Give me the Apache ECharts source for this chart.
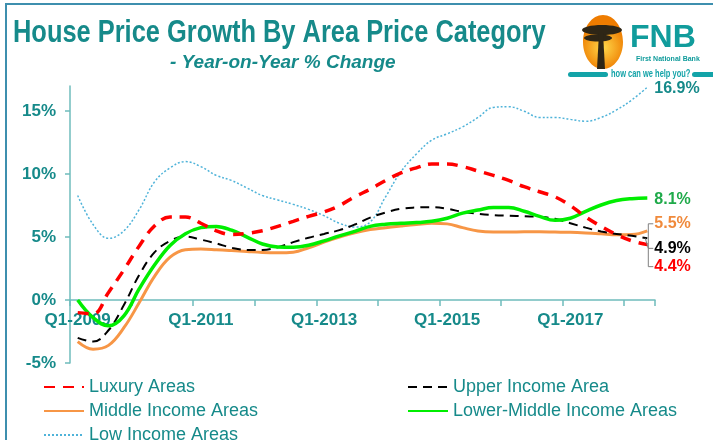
<!DOCTYPE html>
<html>
<head>
<meta charset="utf-8">
<title>House Price Growth By Area Price Category</title>
<script src="https://cdn.jsdelivr.net/npm/echarts@6/dist/echarts.min.js"></script>
<style>html,body{margin:0;padding:0;background:#fff;}</style>
</head>
<body>
<div id="main" style="width:713px;height:440px"></div>
<script>
// quarters Q1-2009 .. Q2-2018
var quarters = [];
for (var yr = 2009; yr <= 2018; yr++) {
  for (var q = 1; q <= 4; q++) quarters.push('Q' + q + '-' + yr);
}
quarters = quarters.slice(0, 38);

var seriesNames = ['Luxury Areas', 'Upper Income Area', 'Middle Income Areas', 'Lower-Middle Income Areas', 'Low Income Areas'];

var luxury = [-1.0, -1.1, 0.6, 2.4, 4.3, 5.9, 6.6, 6.6, 6.1, 5.5, 5.2, 5.3, 5.5, 5.85, 6.25, 6.65, 7.0, 7.5, 8.2, 8.8,
  9.5, 10.1, 10.5, 10.8, 10.8, 10.6, 10.25, 9.9, 9.5, 9.0, 8.6, 8.2, 7.5, 6.6, 5.85, 5.2, 4.7, 4.4];
var upperIncome = [-3.0, -3.3, -2.4, -0.4, 2.0, 3.8, 4.7, 5.05, 4.8, 4.5, 4.15, 3.98, 3.98, 4.2, 4.6, 4.95, 5.25, 5.55, 6.0, 6.55,
  6.95, 7.25, 7.35, 7.38, 7.25, 7.0, 6.85, 6.75, 6.7, 6.65, 6.6, 6.45, 6.1, 5.75, 5.45, 5.25, 5.1, 4.9];
var middleIncome = [-3.3, -3.9, -3.6, -2.2, -0.2, 1.9, 3.4, 4.0, 4.05, 4.0, 3.93, 3.85, 3.78, 3.76, 3.8, 4.15, 4.6, 5.0, 5.35, 5.6,
  5.75, 5.88, 6.0, 6.1, 6.05, 5.75, 5.48, 5.4, 5.4, 5.42, 5.42, 5.4, 5.38, 5.33, 5.26, 5.18, 5.2, 5.5];
var lowerMiddle = [0.0, -1.4, -2.05, -1.25, 0.9, 2.8, 4.34, 5.27, 5.75, 5.85, 5.55, 5.0, 4.45, 4.22, 4.2, 4.35, 4.7, 5.1, 5.45, 5.85,
  6.02, 6.1, 6.15, 6.25, 6.5, 6.9, 7.15, 7.35, 7.35, 7.05, 6.65, 6.33, 6.5, 7.05, 7.55, 7.9, 8.05, 8.1];
var lowIncome = [8.3, 6.0, 4.9, 5.5, 7.2, 9.4, 10.5, 11.0, 10.6, 9.9, 9.5, 8.9, 8.3, 7.95, 7.6, 7.2, 6.7, 6.1, 5.8, 6.2,
  8.2, 10.2, 11.6, 12.7, 13.2, 13.75, 14.5, 15.3, 15.35, 15.0, 14.5, 14.5, 14.35, 14.2, 14.5, 15.1, 15.9, 16.9];

var yMin = -5, yMax = 17;
var gridTop = 86, gridBottom = 77, chartH = 440;

var teal = '#168a8a';
var axisColor = '#6fbcbc';
var sans = "'Liberation Sans', Arial, sans-serif";

function endLabel(color, dy) {
  return {
    show: true,
    distance: 7,
    offset: [0, dy],
    color: color,
    fontFamily: sans,
    fontWeight: 'bold',
    fontSize: 16,
    formatter: function (p) { return p.value.toFixed(1) + '%'; }
  };
}

function legendAt(name, x, y) {
  return {
    data: [name],
    left: x,
    top: y,
    itemWidth: 40,
    itemHeight: 14,
    itemStyle: { opacity: 0 },
    textStyle: { color: teal, fontFamily: sans, fontSize: 18 }
  };
}

var logo = [
  { id: 'frameL', type: 'line', shape: { x1: 6, y1: 3, x2: 6, y2: 440 }, style: { stroke: '#3d8fae', lineWidth: 2 } },
  { id: 'frameT', type: 'line', shape: { x1: 6, y1: 4, x2: 713, y2: 4 }, style: { stroke: '#3d8fae', lineWidth: 2 } },
  { id: 'title', type: 'text', x: 13, y: 18, scaleX: 0.82,
    style: { text: 'House Price Growth By Area Price Category', fill: teal, font: 'bold 31px ' + sans } },
  { id: 'subtitle', type: 'text', x: 170, y: 53,
    style: { text: '- Year-on-Year % Change', fill: teal, font: 'italic bold 19px ' + sans } },
  { id: 'oval', type: 'ellipse', shape: { cx: 603, cy: 42, rx: 20, ry: 27 },
    style: { fill: new echarts.graphic.RadialGradient(0.5, 0.6, 0.6, [
      { offset: 0, color: '#ffd84a' }, { offset: 1, color: '#ee7c00' }]) } },
  { id: 'canopy1', type: 'ellipse', shape: { cx: 602, cy: 30, rx: 20, ry: 5 }, style: { fill: '#2e2616' } },
  { id: 'canopy2', type: 'ellipse', shape: { cx: 598, cy: 38, rx: 14, ry: 3.5 }, style: { fill: '#2e2616' } },
  { id: 'trunk', type: 'polygon', shape: { points: [[599, 33], [603, 33], [605, 69], [597, 69]] }, style: { fill: '#2e2616' } },
  { id: 'fnb', type: 'text', x: 630, y: 22, style: { text: 'FNB', fill: '#119c9c', font: 'bold 32px ' + sans } },
  { id: 'fnbSub', type: 'text', x: 636, y: 56, style: { text: 'First National Bank', fill: '#119c9c', font: 'bold 7px ' + sans } },
  { id: 'barL', type: 'rect', shape: { x: 568, y: 72, width: 40, height: 5, r: 2.5 }, style: { fill: '#13a3a8' } },
  { id: 'help', type: 'text', x: 611, y: 68, scaleX: 0.68,
    style: { text: 'how can we help you?', fill: '#13a3a8', font: 'bold 11px ' + sans } },
  { id: 'barR', type: 'rect', shape: { x: 692, y: 72, width: 23, height: 5, r: 2.5 }, style: { fill: '#13a3a8' } }
];

// put the category axis on the 0% line
var plotH = chartH - gridTop - gridBottom;
var zeroOffset = -(0 - yMin) * plotH / (yMax - yMin);

var option = {
  backgroundColor: '#fff',
  animation: false,
  legend: [
    legendAt(seriesNames[0], 38, 373),
    legendAt(seriesNames[1], 402, 373),
    legendAt(seriesNames[2], 38, 397),
    legendAt(seriesNames[3], 402, 397),
    legendAt(seriesNames[4], 38, 421)
  ],
  grid: { left: 70, right: 58, top: gridTop, bottom: gridBottom, containLabel: false },
  xAxis: {
    type: 'category',
    data: quarters,
    boundaryGap: true,
    offset: zeroOffset,
    axisLine: { onZero: false, lineStyle: { color: axisColor, width: 1.5 } },
    axisTick: { show: true, alignWithLabel: false, inside: false, length: 6,
      interval: function (idx) { return idx % 4 === 0; },
      lineStyle: { color: axisColor, width: 1.5 } },
    axisLabel: { interval: 7, margin: 12, color: teal, fontFamily: sans, fontWeight: 'bold', fontSize: 17 },
    splitLine: { show: false }
  },
  yAxis: {
    type: 'value',
    min: yMin,
    max: yMax,
    interval: 5,
    axisLine: { show: true, lineStyle: { color: axisColor, width: 1.5 } },
    axisTick: { show: true, length: 5, lineStyle: { color: axisColor, width: 1.5 } },
    axisLabel: { showMaxLabel: false, margin: 14, color: teal, fontFamily: sans, fontWeight: 'bold', fontSize: 17,
      formatter: function (v) { return v + '%'; } },
    splitLine: { show: false }
  },
  series: [
    { name: seriesNames[4], type: 'line', data: lowIncome, smooth: 0.4, symbol: 'none', z: 2,
      lineStyle: { color: '#4fb3d9', width: 1.5, type: [2, 2] }, itemStyle: { color: '#4fb3d9' },
      endLabel: endLabel(teal, 1) },
    { name: seriesNames[2], type: 'line', data: middleIncome, smooth: 0.4, symbol: 'none', z: 3,
      lineStyle: { color: '#f79646', width: 3 }, itemStyle: { color: '#f79646' },
      endLabel: endLabel('#f08a3c', -7) },
    { name: seriesNames[1], type: 'line', data: upperIncome, smooth: 0.4, symbol: 'none', z: 4,
      lineStyle: { color: '#000', width: 2, type: [9, 6] }, itemStyle: { color: '#000' },
      endLabel: endLabel('#000', 10) },
    { name: seriesNames[3], type: 'line', data: lowerMiddle, smooth: 0.4, symbol: 'none', z: 5,
      lineStyle: { color: '#00ee00', width: 3.5 }, itemStyle: { color: '#00ee00' },
      endLabel: endLabel('#1faa4a', 2) },
    { name: seriesNames[0], type: 'line', data: luxury, smooth: 0.4, symbol: 'none', z: 6,
      lineStyle: { color: '#ff0000', width: 3.5, type: [11, 8] }, itemStyle: { color: '#ff0000' },
      endLabel: endLabel('#ff0000', 22) }
  ],
  graphic: { elements: logo }
};

var myChart = echarts.init(document.getElementById('main'), null, { renderer: 'canvas' });
myChart.setOption(option);

// bracket joining the three close end labels, placed from the chart's own scales
var last = quarters.length - 1;
var pMid = myChart.convertToPixel({ gridIndex: 0 }, [last, middleIncome[last]]);
var pUp = myChart.convertToPixel({ gridIndex: 0 }, [last, upperIncome[last]]);
var pLux = myChart.convertToPixel({ gridIndex: 0 }, [last, luxury[last]]);
var bx = pMid[0] + 1;
var yTop = pMid[1] - 7, yMid = pUp[1] + 10, yBot = pLux[1] + 22;
myChart.setOption({
  graphic: { elements: logo.concat([
    { id: 'brk', type: 'polyline', z: 10,
      shape: { points: [[bx + 5, yTop], [bx, yTop], [bx, yBot], [bx + 5, yBot]] },
      style: { stroke: '#808080', lineWidth: 1, fill: null } },
    { id: 'brkMid', type: 'polyline', z: 10,
      shape: { points: [[pUp[0] - 2, pUp[1]], [bx, yMid], [bx + 5, yMid]] },
      style: { stroke: '#808080', lineWidth: 1, fill: null } }
  ]) }
});
</script>
</body>
</html>
